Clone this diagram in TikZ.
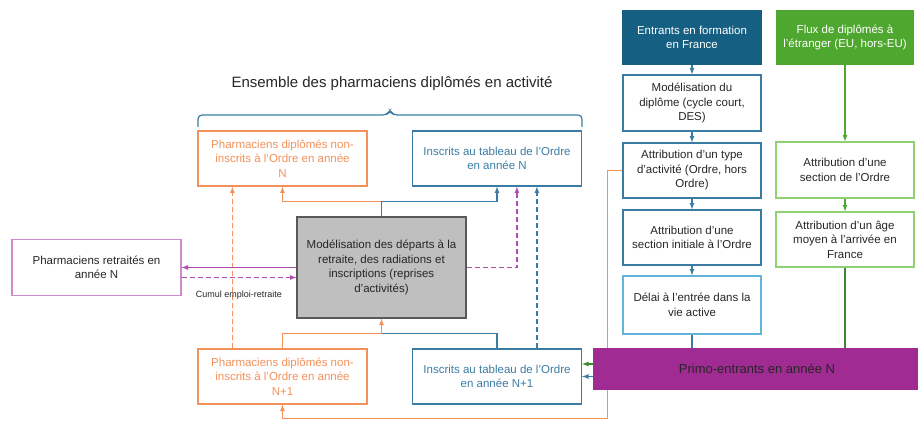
\documentclass[tikz,border=0pt]{standalone}
\usepackage{fontspec}
\setmainfont{Liberation Sans}
\usepackage{tikz}
\usetikzlibrary{arrows, positioning}
\usepackage{xcolor}

\definecolor{ordorange}{HTML}{F2915A}
\definecolor{ordblue}{HTML}{3A7CA3}
\definecolor{lightblue}{HTML}{62B4DA}
\definecolor{darkblue}{HTML}{156082}
\definecolor{ordgreen}{HTML}{4EA72E}
\definecolor{lightgreen}{HTML}{8FD173}
\definecolor{darkgreen}{HTML}{3B8A2E}
\definecolor{retpurple}{HTML}{CF89CF}
\definecolor{flowpurple}{HTML}{B04DB3}
\definecolor{primopurple}{HTML}{A02B93}
\definecolor{boxgray}{HTML}{BFBFBF}
\definecolor{txtgray}{HTML}{262626}

\begin{document}
\begin{tikzpicture}[x=1pt,y=1pt,on grid,>=latex,line width=1.2pt,
    font=\fontsize{11.5}{14.5}\selectfont]
    \tikzstyle{box}=[shape=rectangle,draw,align=center,inner sep=2pt,minimum width=169pt,minimum height=55pt,text=txtgray]
    \tikzstyle{obox}=[box,draw=ordorange,text=ordorange]
    \tikzstyle{bbox}=[box,draw=ordblue,text=ordblue]
    \tikzstyle{rbox}=[box,minimum width=138pt]
    \tikzstyle{gbox}=[rbox,draw=lightgreen]
    \tikzstyle{dashpat}=[dash pattern=on 5pt off 3pt]

    \useasboundingbox (0,0) rectangle (918,421);

    \node[text=txtgray,font=\fontsize{15}{18}\selectfont] (title) at (392,337) {Ensemble des pharmaciens diplômés en activité};
    \draw[ordblue,rounded corners=4pt] (198,294) -- (198,306) -- (387,306) -- (390,311) -- (393,306) -- (582,306) -- (582,294);

    \node[box,fill=boxgray,draw=black!65,minimum height=101pt] (model) at (381.5,153.5) {Modélisation des départs à la\\retraite, des radiations et\\inscriptions (reprises\\d'activités)};
    \node[obox, above left=109pt and 99pt of model] (otop) {Pharmaciens diplômés non-\\inscrits à l'Ordre en année\\N};
    \node[bbox, right=214.5pt of otop] (btop) {Inscrits au tableau de l'Ordre\\en année N};
    \node[obox, below=218pt of otop] (obot) {Pharmaciens diplômés non-\\inscrits à l'Ordre en année\\N+1};
    \node[bbox, below=218pt of btop] (bbot) {Inscrits au tableau de l'Ordre\\en année N+1};
    \node[box, draw=retpurple, minimum height=56pt, left=285pt of model] (retired) {Pharmaciens retraités en\\année N};

    \node[rbox, fill=darkblue, draw=darkblue, text=white, minimum height=53pt] (entr) at (692,383.5) {Entrants en formation\\en France};
    \node[rbox, draw=ordblue, minimum height=56pt, below=65.5pt of entr] (diplome) {Modélisation du\\diplôme (cycle court,\\DES)};
    \node[rbox, draw=ordblue, below=67.5pt of diplome] (type) {Attribution d'un type\\d'activité (Ordre, hors\\Ordre)};
    \node[rbox, draw=ordblue, below=67pt of type] (section) {Attribution d'une\\section initiale à l'Ordre};
    \node[rbox, draw=lightblue, minimum height=58pt, below=67.5pt of section] (delai) {Délai à l'entrée dans la\\vie active};
    \node[rbox, fill=ordgreen, draw=ordgreen, text=white, minimum width=136pt, minimum height=53pt, right=153pt of entr] (flux) {Flux de diplômés à\\l'étranger (EU, hors-EU)};
    \node[gbox, minimum height=56pt, below=132.5pt of flux] (sectionord) {Attribution d'une\\section de l'Ordre};
    \node[gbox, below=69.5pt of sectionord] (age) {Attribution d'un âge\\moyen à l'arrivée en\\France};

    % flows around the model box
    \coordinate[above=15pt of model.north] (mtop);
    \coordinate[below=15pt of model.south] (mbot);
    \draw[->,ordorange] (mtop) -| (otop.south);
    \draw[->,ordblue] (model.north) -- (mtop) -| (btop.south);
    \draw[ordblue] (bbot.north) |- (mbot);
    \draw[->,ordorange] (obot.north) |- (mbot) -- (model.south);
    \draw[->,ordorange,dashpat] ([xshift=35pt]obot.north west) -- ([xshift=35pt]otop.south west);
    \draw[->,ordblue,dashpat] ([xshift=125pt]bbot.north west) -- ([xshift=125pt]btop.south west);
    \draw[->,flowpurple,dashpat] (model.east) -| ([xshift=105pt]btop.south west);
    \draw[->,flowpurple] (model.west) -- (retired.east);
    \draw[->,flowpurple,dashpat] ([yshift=-10pt]retired.east) -- ([yshift=-10pt]model.west)
        node[midway,below=10pt,text=txtgray,font=\fontsize{9}{11}\selectfont] {Cumul emploi-retraite};

    % entry chains
    \path[->,draw,ordblue]
    (entr) edge (diplome)
    (diplome) edge (type)
    (type) edge (section)
    (section) edge (delai)
   ;
    \path[->,draw,ordgreen]
    (flux) edge (sectionord)
    (sectionord) edge (age)
   ;
    \draw[->,ordorange] (type.west) -- ++(-15pt,0) |- ([yshift=-14pt]obot.south) -- (obot.south);

    \node[box, fill=primopurple, draw=primopurple, minimum width=326pt, minimum height=40pt,
        font=\fontsize{13}{16}\selectfont] (primo) at (757,52) {Primo-entrants en année N};

    \draw[ordblue] (delai.south) -- (delai.south |- primo.north);
    \draw[darkgreen] (age.south) -- (age.south |- primo.north);
    \draw[->,darkgreen] ([yshift=5pt]primo.west) -- ([yshift=12.5pt]bbot.east);
    \draw[->,ordblue] ([yshift=-7.5pt]primo.west) -- (bbot.east);

\end{tikzpicture}
\end{document}
